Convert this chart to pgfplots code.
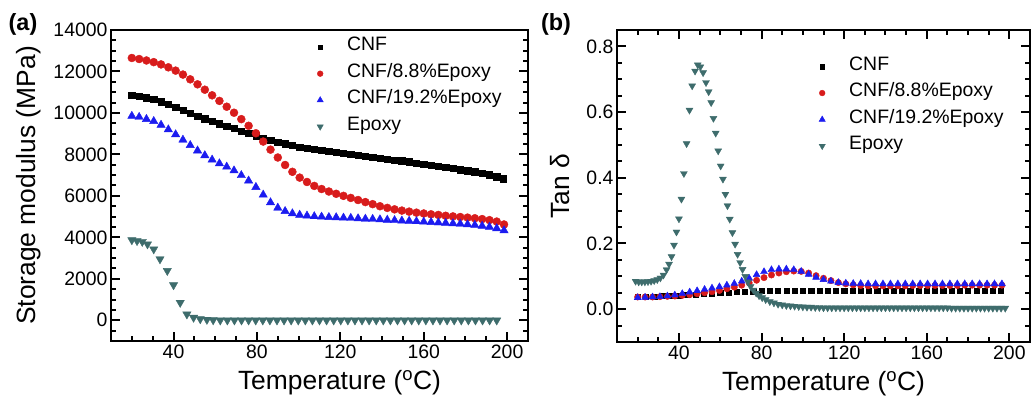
\documentclass[border=0pt]{standalone}
\usepackage{fontspec}
\setmainfont{Liberation Sans}
\usepackage{pgfplots}
\pgfplotsset{compat=1.18}
\definecolor{cred}{RGB}{216,28,28}
\definecolor{cblue}{RGB}{28,28,240}
\definecolor{cteal}{RGB}{62,108,108}
\tikzset{tk/.style={draw=black, line width=2bp}}
\pgfplotsset{
  myaxis/.style={
    scale only axis,
    clip=false,
    axis line style={line width=2.2bp},
    xtick style={draw=black, line width=2bp},
    ytick style={draw=black, line width=2bp},
    major tick length=9bp, minor tick length=5bp,
    /pgf/number format/assume math mode=true,
    xticklabel={\pgfmathprintnumber{\tick}},
    yticklabel={\pgfmathprintnumber{\tick}},
    scaled ticks=false,
    tick label style={font=\fontsize{19.5}{20}\selectfont},
    every axis label/.append style={font=\fontsize{26.5}{27}\selectfont},
    xmin=10, xmax=210,
    xtick={40,80,120,160,200},
    xlabel={Temperature (\textsuperscript{o}C)},
    legend cell align=left,
    legend style={draw=none, fill=none, inner sep=0pt, anchor=north west,
      font=\fontsize{19.5}{20}\selectfont,
      nodes={inner sep=0pt, text height=17bp, text depth=9.5bp}},
    legend image code/.code={\path[draw=none,fill=none] (-4bp,0bp) (27bp,0bp); \draw[##1] plot coordinates {(0bp,0bp)};},
  },
}
\begin{document}
\begin{tikzpicture}
\useasboundingbox (-111bp,-58bp) rectangle (921bp,341bp);
% ---------------- (a)
\begin{axis}[myaxis,
  at={(0bp,0bp)}, anchor=south west,
  width=417bp, height=311bp,
  ymin=-1000, ymax=14000,
  ytick={0,2000,...,14000},
  xtick pos=left,
  /pgf/number format/1000 sep={},
  ylabel={Storage modulus (MPa)},
  xlabel style={xshift=20bp, yshift=-5bp},
  ylabel style={yshift=6bp},
  legend style={at={(0.4916,0.988)}},
]
\addlegendimage{only marks, mark=square*, mark size=2.4bp, color=black}
\addlegendentry{CNF}
\addlegendimage{only marks, mark=*, mark size=2.9bp, color=cred}
\addlegendentry{CNF/8.8\%Epoxy}
\addlegendimage{only marks, mark=triangle*, mark size=3.6bp, color=cblue}
\addlegendentry{CNF/19.2\%Epoxy}
\addlegendimage{only marks, mark=triangle*, mark size=3.6bp, color=cteal, mark options={rotate=180}}
\addlegendentry{Epoxy}
% tick marks
\pgfplotsinvokeforeach{40,80,120,160,200}{\draw[tk] (axis cs:#1,-1000) -- ++(0bp,9bp);}
\pgfplotsinvokeforeach{20,30,50,60,70,90,100,110,130,140,150,170,180,190}{\draw[tk] (axis cs:#1,-1000) -- ++(0bp,5bp);}
\pgfplotsinvokeforeach{0,2000,4000,6000,8000,10000,12000}{\draw[tk] (axis cs:10,#1) -- ++(9bp,0bp); \draw[tk] (axis cs:210,#1) -- ++(-9bp,0bp);}
\pgfplotsinvokeforeach{-500,500,1000,1500,2500,3000,3500,4500,5000,5500,6500,7000,7500,8500,9000,9500,10500,11000,11500,12500,13000,13500}{\draw[tk] (axis cs:10,#1) -- ++(5bp,0bp); \draw[tk] (axis cs:210,#1) -- ++(-5bp,0bp);}
\addplot[forget plot, only marks, mark=square*, mark size=3.2bp, color=black] table {
20 10850
23.5 10800
27 10730
30.5 10650
34 10550
37.5 10430
41 10290
44.5 10140
48 9990
51.5 9850
55 9720
58.5 9600
62 9480
65.5 9360
69 9250
72.5 9130
76 9010
79.5 8900
83 8790
86.5 8690
90 8600
93.5 8510
97 8430
100.5 8360
104 8300
107.5 8250
111 8200
114.5 8160
118 8110
121.5 8060
125 8010
128.5 7960
132 7910
135.5 7870
139 7820
142.5 7780
146 7730
149.5 7690
153 7640
156.5 7590
160 7540
163.5 7490
167 7430
170.5 7380
174 7330
177.5 7270
181 7210
184.5 7160
188 7100
191.5 7030
195 6930
198 6820
};
\addplot[forget plot, only marks, mark=*, mark size=4bp, color=cred] table {
20 12650
23.5 12600
27 12530
30.5 12450
34 12340
37.5 12200
41 12040
44.5 11850
48 11620
51.5 11380
55 11120
58.5 10850
62 10580
65.5 10300
69 10010
72.5 9700
76 9380
79.5 9020
83 8620
86.5 8230
90 7850
93.5 7490
97 7160
100.5 6880
104 6670
107.5 6480
111 6330
114.5 6210
118 6100
121.5 6000
125 5900
128.5 5800
132 5700
135.5 5600
139 5500
142.5 5420
146 5350
149.5 5290
153 5240
156.5 5190
160 5150
163.5 5110
167 5080
170.5 5040
174 5010
177.5 4980
181 4950
184.5 4920
188 4880
191.5 4830
195 4760
198.5 4620
};
\addplot[forget plot, only marks, mark=triangle*, mark size=4.8bp, color=cblue] table {
20 9850
23.5 9800
27 9700
30.5 9600
34 9420
37.5 9200
41 8960
44.5 8700
48 8440
51.5 8180
55 7950
58.5 7740
62 7560
65.5 7400
69 7220
72.5 6990
76 6730
79.5 6420
83 6050
86.5 5680
90 5420
93.5 5260
97 5150
100.5 5080
104 5040
107.5 5010
111 4990
114.5 4970
118 4960
121.5 4940
125 4930
128.5 4910
132 4890
135.5 4880
139 4860
142.5 4840
146 4820
149.5 4800
153 4790
156.5 4770
160 4750
163.5 4730
167 4710
170.5 4690
174 4670
177.5 4650
181 4620
184.5 4590
188 4550
191.5 4500
195 4430
198.5 4330
};
\addplot[forget plot, only marks, mark=triangle*, mark size=4.8bp, color=cteal, mark options={rotate=180}] table {
20 3870
22.5 3830
25 3790
27.5 3670
30.5 3430
33.5 2950
37 2390
40 1700
43.2 850
46.4 290
49.6 130
52.8 60
56 30
59 10
62.4 0
65.8 0
69.2 0
72.6 0
76 0
79.4 0
82.8 0
86.2 0
89.6 0
93 0
96.4 0
99.8 0
103.2 0
106.6 0
110 0
113.4 0
116.8 0
120.2 0
123.6 0
127 0
130.4 0
133.8 0
137.2 0
140.6 0
144 0
147.4 0
150.8 0
154.2 0
157.6 0
161 0
164.4 0
167.8 0
171.2 0
174.6 0
178 0
181.4 0
184.8 0
188.2 0
191.6 0
195 0
};
\end{axis}
\node[font=\bfseries\fontsize{23.5}{24}\selectfont] at (-88bp,317bp) {(a)};
\node[font=\bfseries\fontsize{23.5}{24}\selectfont] at (445bp,317bp) {(b)};
% ---------------- (b)
\begin{axis}[myaxis,
  at={(506bp,-1bp)}, anchor=south west,
  width=413bp, height=312bp,
  ymin=-0.1, ymax=0.85,
  ytick={0,0.2,0.4,0.6,0.8},
  yticklabel style={/pgf/number format/.cd, fixed, fixed zerofill, precision=1},
  ylabel={Tan δ},
  xlabel style={yshift=-5bp},
  ylabel style={yshift=10bp},
  legend style={at={(0.4867,0.926)}},
]
\addlegendimage{only marks, mark=square*, mark size=2.4bp, color=black}
\addlegendentry{CNF}
\addlegendimage{only marks, mark=*, mark size=2.9bp, color=cred}
\addlegendentry{CNF/8.8\%Epoxy}
\addlegendimage{only marks, mark=triangle*, mark size=3.6bp, color=cblue}
\addlegendentry{CNF/19.2\%Epoxy}
\addlegendimage{only marks, mark=triangle*, mark size=3.6bp, color=cteal, mark options={rotate=180}}
\addlegendentry{Epoxy}
% tick marks
\pgfplotsinvokeforeach{40,80,120,160,200}{\draw[tk] (axis cs:#1,-0.1) -- ++(0bp,9bp); \draw[tk] (axis cs:#1,0.85) -- ++(0bp,-9bp);}
\pgfplotsinvokeforeach{20,30,50,60,70,90,100,110,130,140,150,170,180,190}{\draw[tk] (axis cs:#1,-0.1) -- ++(0bp,5bp); \draw[tk] (axis cs:#1,0.85) -- ++(0bp,-5bp);}
\pgfplotsinvokeforeach{0,0.2,0.4,0.6,0.8}{\draw[tk] (axis cs:10,#1) -- ++(9bp,0bp); \draw[tk] (axis cs:210,#1) -- ++(-9bp,0bp);}
\pgfplotsinvokeforeach{-0.05,0.05,0.1,0.15,0.25,0.3,0.35,0.45,0.5,0.55,0.65,0.7,0.75}{\draw[tk] (axis cs:10,#1) -- ++(5bp,0bp); \draw[tk] (axis cs:210,#1) -- ++(-5bp,0bp);}
\addplot[forget plot, only marks, mark=square*, mark size=2.6bp, color=black] table {
20 0.037
24 0.038
28 0.039
32 0.040
36 0.041
40 0.042
44 0.044
48 0.045
52 0.047
56 0.048
60 0.050
64 0.051
68 0.052
72 0.053
76 0.054
80 0.055
84 0.055
88 0.056
92 0.056
96 0.056
100 0.057
104 0.057
108 0.057
112 0.057
116 0.057
120 0.057
124 0.057
128 0.057
132 0.057
136 0.057
140 0.057
144 0.057
148 0.057
152 0.057
156 0.057
160 0.057
164 0.057
168 0.057
172 0.057
176 0.057
180 0.057
184 0.057
188 0.057
192 0.057
196 0.057
};
\addplot[forget plot, only marks, mark=*, mark size=3.2bp, color=cred] table {
20 0.037
23.6 0.037
27.2 0.037
30.8 0.038
34.4 0.039
38 0.040
41.6 0.042
45.2 0.044
48.8 0.047
52.4 0.050
56 0.053
59.6 0.057
63.2 0.062
66.8 0.067
70.4 0.073
74 0.080
77.6 0.088
81.2 0.096
84.8 0.104
88.4 0.110
92 0.114
95.6 0.116
99.2 0.115
102.8 0.110
106.4 0.102
110 0.094
113.6 0.087
117.2 0.081
120.8 0.077
124.4 0.074
128 0.072
131.6 0.071
135.2 0.071
138.8 0.071
142.4 0.071
146 0.071
149.6 0.071
153.2 0.072
156.8 0.072
160.4 0.072
164 0.072
167.6 0.072
171.2 0.072
174.8 0.072
178.4 0.073
182 0.073
185.6 0.073
189.2 0.073
192.8 0.073
196.4 0.073
};
\addplot[forget plot, only marks, mark=triangle*, mark size=4bp, color=cblue] table {
20 0.035
23.6 0.036
27.2 0.037
30.8 0.038
34.4 0.040
38 0.043
41.6 0.047
45.2 0.052
48.8 0.056
52.4 0.060
56 0.064
59.6 0.068
63.2 0.073
66.8 0.078
70.4 0.085
74 0.094
77.6 0.105
81.2 0.114
84.8 0.120
88.4 0.122
92 0.122
95.6 0.120
99.2 0.115
102.8 0.106
106.4 0.097
110 0.090
113.6 0.085
117.2 0.081
120.8 0.079
124.4 0.078
128 0.078
131.6 0.077
135.2 0.077
138.8 0.077
142.4 0.077
146 0.077
149.6 0.077
153.2 0.077
156.8 0.077
160.4 0.077
164 0.077
167.6 0.077
171.2 0.077
174.8 0.077
178.4 0.077
182 0.077
185.6 0.077
189.2 0.077
192.8 0.077
196.4 0.077
};
\addplot[forget plot, only marks, mark=triangle*, mark size=4bp, color=cteal, mark options={rotate=180}] table {
19 0.085
20.5 0.083
22 0.083
23.5 0.083
25 0.084
26.5 0.085
28 0.087
29.5 0.090
31 0.095
32.5 0.104
34 0.120
35.2 0.137
36.4 0.160
37.6 0.195
38.8 0.235
40 0.275
41.2 0.335
42.4 0.413
43.7 0.504
45.1 0.606
46.4 0.680
47.8 0.725
49.1 0.744
50.4 0.738
51.7 0.720
53.1 0.690
54.4 0.662
55.6 0.629
56.7 0.581
57.8 0.536
59.0 0.482
60.2 0.436
61.3 0.396
62.5 0.350
63.5 0.315
64.6 0.274
65.9 0.233
67.2 0.198
68.4 0.167
69.6 0.142
70.8 0.121
72.1 0.100
73.4 0.083
74.7 0.069
76 0.058
77.4 0.049
78.8 0.041
80.3 0.035
82 0.029
84 0.023
86 0.019
88 0.015
90 0.013
92 0.011
94 0.010
96 0.009
98 0.008
100 0.007
102 0.006
104 0.006
106 0.005
108 0.005
110 0.004
112 0.004
114 0.004
116 0.004
118 0.004
120 0.004
122 0.004
124 0.004
126 0.004
128 0.004
130 0.004
132 0.004
134 0.004
136 0.004
138 0.004
140 0.004
142 0.004
144 0.004
146 0.004
148 0.004
150 0.004
152 0.004
154 0.004
156 0.004
158 0.004
160 0.004
162 0.004
164 0.004
166 0.004
168 0.004
170 0.004
172 0.003
174 0.003
176 0.003
178 0.003
180 0.003
182 0.003
184 0.003
186 0.003
188 0.003
190 0.003
192 0.003
194 0.003
196 0.003
198 0.003
};
\end{axis}
\end{tikzpicture}
\end{document}
